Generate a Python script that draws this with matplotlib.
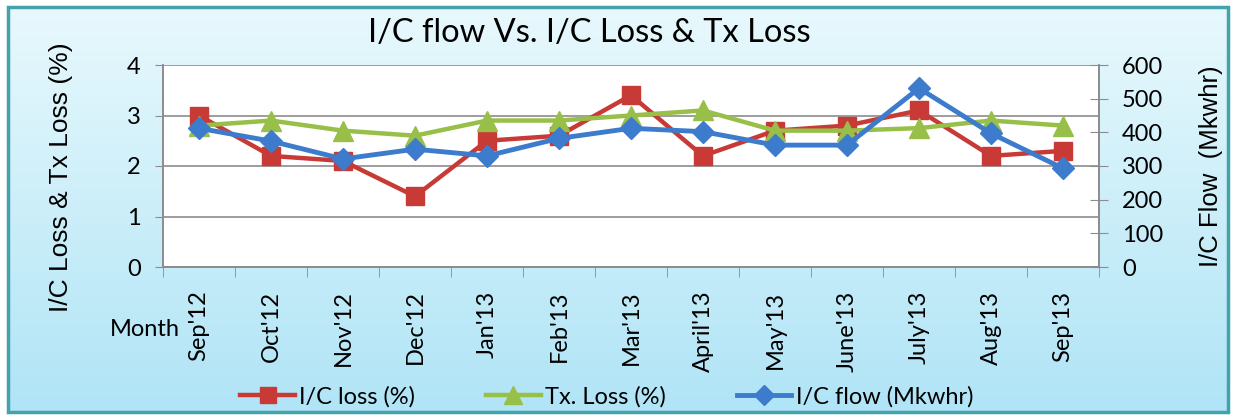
import numpy as np
import matplotlib
matplotlib.use('Agg')
import matplotlib.pyplot as plt
from matplotlib.patches import Rectangle

months = ["Sep'12", "Oct'12", "Nov'12", "Dec'12", "Jan'13", "Feb'13", "Mar'13",
          "April'13", "May'13", "June'13", "July'13", "Aug'13", "Sep'13"]
ic_loss = [3.0, 2.2, 2.1, 1.4, 2.5, 2.6, 3.4, 2.2, 2.7, 2.8, 3.1, 2.2, 2.3]
tx_loss = [2.8, 2.9, 2.7, 2.6, 2.9, 2.9, 3.0, 3.1, 2.7, 2.7, 2.75, 2.9, 2.8]
ic_flow = [412, 374, 321, 350, 330, 382, 412, 402, 362, 362, 531, 397, 293]

plt.rcParams['font.family'] = ['Lato', 'DejaVu Sans']

W, H = 1236, 417
fig = plt.figure(figsize=(W / 100, H / 100), dpi=100)
fig.patch.set_facecolor('white')

# light blue gradient panel with teal border
bg = fig.add_axes([0, 0, 1, 1], zorder=-10)
bg.set_xlim(0, 1)
bg.set_ylim(0, 1)
bg.axis('off')
grad = np.linspace(0, 1, 256).reshape(-1, 1)
top = np.array([0.91, 0.975, 0.99])
bot = np.array([0.69, 0.895, 0.965])
img = top + (bot - top) * grad[:, :, None]
x0, y0, x1, y1 = 8 / W, 5 / H, 1228 / W, 410 / H
bg.imshow(img, extent=[x0, x1, y0, y1], aspect='auto', zorder=0)
bg.add_patch(Rectangle((x0, y0), x1 - x0, y1 - y0, fill=False,
                       edgecolor='#43a2ab', linewidth=2.5, zorder=1))

# plot area in pixels: x 163..1099, y 65..267
ax = fig.add_axes([163 / W, 150 / H, (1099 - 163) / W, (267 - 65) / H])
ax.set_facecolor('white')
x = np.arange(len(months))

red = '#c83a35'
green = '#98bf48'
blue = '#3d7ccc'

l1, = ax.plot(x, ic_loss, color=red, lw=3.2, marker='s', ms=13,
              label='I/C loss (%)', zorder=2)
l2, = ax.plot(x, tx_loss, color=green, lw=3.2, marker='^', ms=14,
              label='Tx. Loss (%)', zorder=3)

ax2 = ax.twinx()
l3, = ax2.plot(x, ic_flow, color=blue, lw=3.5, marker='D', ms=11,
               label='I/C flow (Mkwhr)', zorder=4)

ax.set_xlim(-0.5, len(months) - 0.5)
ax.set_ylim(0, 4)
ax2.set_ylim(0, 600)
ax.set_yticks([0, 1, 2, 3, 4])
ax2.set_yticks(range(0, 601, 100))
ax.grid(axis='y', color='#8c8c8c', lw=1.2)
ax.set_axisbelow(True)

ax.set_xticks(x)
ax.set_xticklabels(months, rotation=90, fontsize=17)
ax.set_xticks(np.arange(-0.5, len(months)), minor=True)
ax.tick_params(axis='x', which='major', length=0, pad=17)
ax.tick_params(axis='x', which='minor', length=7, color='#8c8c8c', direction='out')
ax.tick_params(axis='y', labelsize=17, length=6, color='#8c8c8c', pad=10)
ax2.tick_params(axis='y', labelsize=17, length=13, color='#8c8c8c',
                direction='inout', pad=10)

for a in (ax, ax2):
    for s in a.spines.values():
        s.set_color('#8c8c8c')
        s.set_linewidth(1.2)
    a.spines['top'].set_visible(False)

ax.set_ylabel('I/C Loss & Tx Loss (%)', fontsize=19, family='Liberation Sans')
ax2.set_ylabel('I/C Flow  (Mkwhr)', fontsize=18.5, family='Liberation Sans')
ax.yaxis.set_label_coords((73 - 163) / (1099 - 163), 0.445)
ax2.yaxis.set_label_coords((1199 - 163) / (1099 - 163), 0.5)

fig.text(589 / W, 1 - 33 / H, 'I/C flow Vs. I/C Loss & Tx Loss',
         fontsize=23.5, ha='center', va='center')
fig.text(110 / W, 1 - 330 / H, 'Month', fontsize=17, ha='left', va='center')

fig.legend(handles=[l1, l2, l3], loc='center', bbox_to_anchor=(607 / W, 1 - 397 / H),
           ncol=3, frameon=False, fontsize=17, handlelength=2.3,
           columnspacing=3.0, handletextpad=0.2, markerscale=0.9)

fig.savefig('out.png', dpi=100)
